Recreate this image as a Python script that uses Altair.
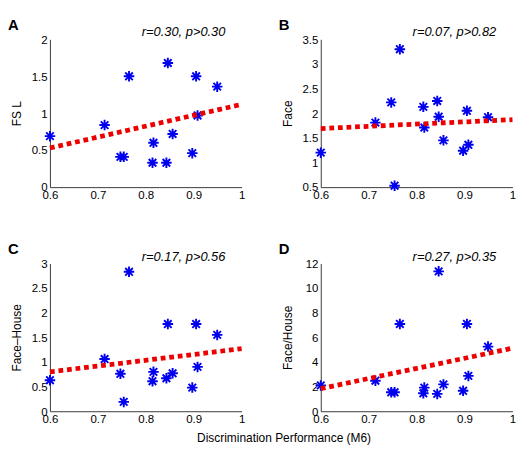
import altair as alt
import pandas as pd

FONT = "Liberation Sans"

# Discrimination performance (M6) of the 14 subjects (shared x values)
x_perf = [0.600, 0.714, 0.747, 0.754, 0.765, 0.814, 0.816, 0.843, 0.846, 0.856, 0.897, 0.905, 0.908, 0.949]

# Panel values
fs_l = [0.69, 0.84, 0.41, 0.41, 1.50, 0.33, 0.60, 0.33, 1.68, 0.72, 0.46, 1.50, 0.97, 1.36]
face = [1.20, 1.81, 2.22, 0.53, 3.30, 2.13, 1.71, 2.25, 1.93, 1.45, 1.24, 2.05, 1.36, 1.92]
face_minus_house = [0.63, 1.06, 0.76, 0.19, 2.83, 0.61, 0.80, 0.67, 1.77, 0.77, 0.48, 1.77, 0.90, 1.55]
face_over_house = [2.10, 2.48, 1.54, 1.54, 7.09, 1.46, 1.92, 1.41, 11.36, 2.18, 1.66, 7.09, 2.87, 5.25]

# Regression line end points (at x = 0.6 and x = 1)
fit_x = [0.6, 1.0]
fit_fs_l = [0.53, 1.12]
fit_face = [1.69, 1.87]
fit_face_minus_house = [0.80, 1.27]
fit_face_over_house = [1.84, 5.12]

x_ticks = [0.6, 0.7, 0.8, 0.9, 1.0]
y_ticks_a = [0, 0.5, 1, 1.5, 2]
y_ticks_b = [0.5, 1, 1.5, 2, 2.5, 3, 3.5]
y_ticks_c = [0, 0.5, 1, 1.5, 2, 2.5, 3]
y_ticks_d = [0, 2, 4, 6, 8, 10, 12]

letters = ["A", "B", "C", "D"]
y_titles = ["FS L", "Face", "Face\u2013House", "Face/House"]
stats = ["r=0.30, p>0.30", "r=0.07, p>0.82", "r=0.17, p>0.56", "r=0.27, p>0.35"]
x_title = "Discrimination Performance (M6)"

ASTERISK = ("M-1,0L1,0M0,-1L0,1M-0.72,-0.72L0.72,0.72M-0.72,0.72L0.72,-0.72")

W, H = 201, 155


def panel(letter, ytitle, yvals, fit, yticks, stat):
    df = pd.DataFrame({"x": x_perf, "y": yvals})
    fdf = pd.DataFrame({"x": fit_x, "y": fit})
    xenc = alt.X("x:Q", scale=alt.Scale(domain=[0.6, 1.0], nice=False, zero=False),
                 axis=alt.Axis(values=x_ticks, format="~g", title=None))
    yenc = alt.Y("y:Q", scale=alt.Scale(domain=[yticks[0], yticks[-1]], nice=False, zero=False),
                 axis=alt.Axis(values=yticks, format="~g", title=ytitle))
    pts = alt.Chart(df).mark_point(
        shape=ASTERISK, size=121, filled=False, stroke="#0000ee",
        strokeWidth=2, opacity=1
    ).encode(x=xenc, y=yenc)
    line = alt.Chart(fdf).mark_line(
        color="#ee0000", strokeWidth=5, strokeDash=[5, 4], strokeCap="butt"
    ).encode(x=xenc, y=yenc)
    lab = alt.Chart(pd.DataFrame({"t": [letter]})).mark_text(
        align="left", baseline="top", fontSize=15.5, fontWeight="bold",
        font=FONT, color="black"
    ).encode(x=alt.value(-44), y=alt.value(-22), text="t:N")
    st = alt.Chart(pd.DataFrame({"t": [stat]})).mark_text(
        align="right", baseline="alphabetic", fontSize=13.5, fontStyle="italic",
        font=FONT, color="black"
    ).encode(x=alt.value(W - 17), y=alt.value(-3), text="t:N")
    return alt.layer(pts, line, lab, st).properties(width=W, height=H)


pa = panel(letters[0], y_titles[0], fs_l, fit_fs_l, y_ticks_a, stats[0])
pb = panel(letters[1], y_titles[1], face, fit_face, y_ticks_b, stats[1])
pc = panel(letters[2], y_titles[2], face_minus_house, fit_face_minus_house, y_ticks_c, stats[2])
pd_ = panel(letters[3], y_titles[3], face_over_house, fit_face_over_house, y_ticks_d, stats[3])

chart = alt.vconcat(
    alt.hconcat(pa, pb, spacing=29),
    alt.hconcat(pc, pd_, spacing=29),
    spacing=44,
).properties(
    padding=0,
    title=alt.TitleParams(x_title, orient="bottom", anchor="middle", dx=20, offset=8,
                          fontSize=12.5, fontWeight="normal", font=FONT, color="black"),
).configure_view(
    stroke=None
).configure_axis(
    grid=False, ticks=False, labelFont=FONT, labelFontSize=12, labelColor="black",
    titleFont=FONT, titleFontSize=12.5, titleFontWeight="normal", titleColor="black",
    domainColor="#333333", domainWidth=1, labelPadding=3,
).configure_axisX(
    labelFlush=False,
).configure_axisY(
    minExtent=22, maxExtent=22, titlePadding=6,
)

chart.save("out.html", embed_options={"renderer": "svg", "actions": False})
